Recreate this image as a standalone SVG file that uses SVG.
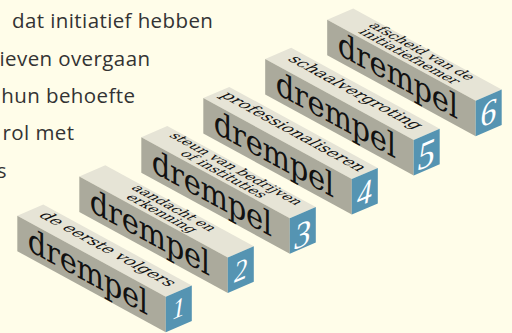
<svg xmlns="http://www.w3.org/2000/svg" width="512" height="333" viewBox="0 0 512 333">
<style>
.bg{fill:#fffde9}
.para{font-family:"Open Sans","Noto Sans",sans-serif;font-size:20.5px;fill:#333;letter-spacing:0.4px}
.top{fill:#e6e4d6}
.front{fill:#abaa9c}
.end{fill:#5594b2}
.big{font-family:"DejaVu Serif",serif;font-size:33px;fill:#111}
.lbl{font-family:"DejaVu Serif",serif;fill:#111;text-anchor:middle}
.l1{font-size:17px}
.l2{font-size:14.5px}
.num{font-family:"Liberation Serif",serif;font-style:italic;fill:#fff;text-anchor:middle}
</style>
<defs>
<g id="box">
<polygon class="top" points="0,0 26,-11.2 174.5,69.8 148.5,81"/>
<polygon class="front" points="0,0 148.5,81 148.5,116.5 0,35.5"/>
<polygon class="end" points="148.5,81 174.5,69.8 174.5,105.3 148.5,116.5"/>
</g>
</defs>
<rect class="bg" x="0" y="0" width="512" height="333"/>
<g id="paragraph">
<text class="para" x="213.3" y="28.3" text-anchor="end">dat initiatief hebben</text>
<text class="para" x="150.4" y="65.6" text-anchor="end">ieven overgaan</text>
<text class="para" x="135.4" y="102.9" text-anchor="end">hun behoefte</text>
<text class="para" x="74.4" y="140.2" text-anchor="end">rol met</text>
<text class="para" x="6.8" y="177.5" text-anchor="end">s</text>
</g>
<g id="block6" transform="translate(327.2,19.7)">
<use href="#box"/>
<text class="big" transform="matrix(0.8779,0.4789,0,1,0,0)" x="12" y="28.5" textLength="137">drempel</text>
<g transform="matrix(0.8779,0.4789,-0.9184,0.3956,26,-11.2)">
<text class="lbl l2" x="84.6" y="10.5">afscheid van de</text>
<text class="lbl l2" x="84.6" y="24">initiatiefnemer</text>
</g>
<text class="num" transform="matrix(0.9184,-0.3956,0,1,148.5,81)" x="14" y="29" font-size="35">6</text>
</g>
<g id="block5" transform="translate(265.2,58.9)">
<use href="#box"/>
<text class="big" transform="matrix(0.8779,0.4789,0,1,0,0)" x="12" y="28.5" textLength="137">drempel</text>
<g transform="matrix(0.8779,0.4789,-0.9184,0.3956,26,-11.2)">
<text class="lbl l1" x="84.6" y="16">schaalvergroting</text>
</g>
<text class="num" transform="matrix(0.9184,-0.3956,0,1,148.5,81)" x="14" y="32.5" font-size="38">5</text>
</g>
<g id="block4" transform="translate(203.3,98.1)">
<use href="#box"/>
<text class="big" transform="matrix(0.8779,0.4789,0,1,0,0)" x="12" y="28.5" textLength="137">drempel</text>
<g transform="matrix(0.8779,0.4789,-0.9184,0.3956,26,-11.2)">
<text class="lbl l1" x="84.6" y="16">professionaliseren</text>
</g>
<text class="num" transform="matrix(0.9184,-0.3956,0,1,148.5,81)" x="14" y="30.5" font-size="33">4</text>
</g>
<g id="block3" transform="translate(141.3,137.3)">
<use href="#box"/>
<text class="big" transform="matrix(0.8779,0.4789,0,1,0,0)" x="12" y="28.5" textLength="137">drempel</text>
<g transform="matrix(0.8779,0.4789,-0.9184,0.3956,26,-11.2)">
<text class="lbl l2" x="84.6" y="10.5">steun van bedrijven</text>
<text class="lbl l2" x="84.6" y="24">of instituties</text>
</g>
<text class="num" transform="matrix(0.9184,-0.3956,0,1,148.5,81)" x="14" y="33.5" font-size="36">3</text>
</g>
<g id="block2" transform="translate(79.3,176.5)">
<use href="#box"/>
<text class="big" transform="matrix(0.8779,0.4789,0,1,0,0)" x="12" y="28.5" textLength="137">drempel</text>
<g transform="matrix(0.8779,0.4789,-0.9184,0.3956,26,-11.2)">
<text class="lbl l2" x="84.6" y="10.5">aandacht en</text>
<text class="lbl l2" x="84.6" y="24">erkenning</text>
</g>
<text class="num" transform="matrix(0.9184,-0.3956,0,1,148.5,81)" x="14" y="28" font-size="29">2</text>
</g>
<g id="block1" transform="translate(17.3,215.7)">
<use href="#box"/>
<text class="big" transform="matrix(0.8779,0.4789,0,1,0,0)" x="12" y="28.5" textLength="137">drempel</text>
<g transform="matrix(0.8779,0.4789,-0.9184,0.3956,26,-11.2)">
<text class="lbl l1" x="84.6" y="16">de eerste volgers</text>
</g>
<text class="num" transform="matrix(0.9184,-0.3956,0,1,148.5,81)" x="14" y="26" font-size="27">1</text>
</g>
<g id="connectors"/>
</svg>
